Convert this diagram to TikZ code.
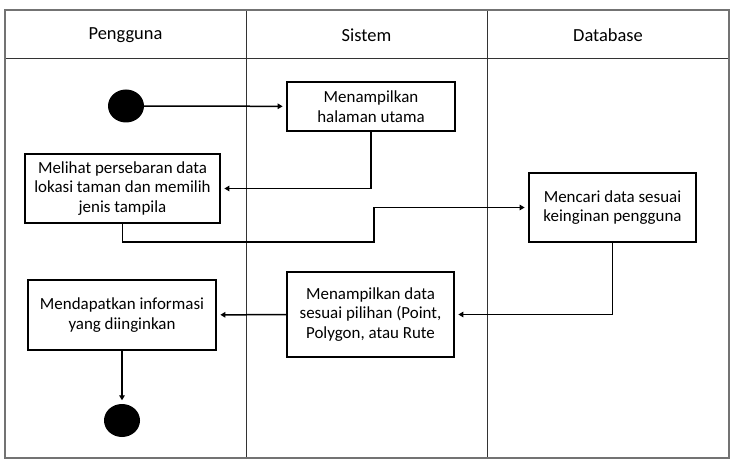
\documentclass[tikz,border=0pt]{standalone}
\usepackage{fontspec}
\setmainfont{Carlito}
\usetikzlibrary{arrows.meta,positioning,shapes.geometric}
\begin{document}
\begin{tikzpicture}[x=1bp,y=-1bp,
  act/.style={draw=black,line width=1.7bp,fill=white,align=center,inner sep=0pt,font=\fontsize{17}{19.5}\selectfont},
  lbl/.style={font=\fontsize{18.5}{22}\selectfont},
  dot/.style={fill=black,ellipse,minimum width=36bp,minimum height=33bp,inner sep=0pt},
  flow/.style={line width=1.5bp,-{Triangle[length=5bp,width=5.5bp]},shorten >=3.5bp},
  lane/.style={draw=black!80,line width=0.8bp}]
\useasboundingbox (0,0) rectangle (739,462);
\fill[white] (0,0) rectangle (739,462);
% swimlanes
\draw[lane] (5,58) -- (729,58);
\draw[lane] (246,10) -- (246,458);
\draw[lane] (487,10) -- (487,458);
\draw[draw=black!55,line width=1.8bp] (5,10) rectangle (729,458);
\node[lbl] (h1) at (125.5,35) {Pengguna};
\node[lbl] (h2) at (366.5,35) {Sistem};
\node[lbl] (h3) at (608,35) {Database};
% nodes
\node[dot] (start) at (126,106) {};
\node[act,minimum width=168bp,minimum height=49bp] (b1) at (371,106.5) {Menampilkan\\halaman utama};
\node[act,minimum width=195bp,minimum height=69bp] (b2) at (122.5,188.5) {Melihat persebaran data\\lokasi taman dan memilih\\jenis tampila};
\node[act,minimum width=167bp,minimum height=69bp] (b3) at (612.5,207.5) {Mencari data sesuai\\keinginan pengguna};
\node[act,minimum width=167bp,minimum height=85bp] (b4) at (370.5,314.5) {Menampilkan data\\sesuai pilihan (Point,\\Polygon, atau Rute};
\node[act,minimum width=188bp,minimum height=70bp] (b5) at (122,315) {Mendapatkan informasi\\yang diinginkan};
\node[dot] (end) at (122,420.5) {};
% flows
\draw[flow] (start) -- (b1);
\draw[flow] (b1.south) |- (b2.east);
\draw[flow] (b2.south) |- (374,242) |- (b3.west);
\draw[flow] (b3.south) |- (b4.east);
\draw[flow] (b4) -- (b5);
\draw[flow] (b5) -- (end);
\end{tikzpicture}
\end{document}
